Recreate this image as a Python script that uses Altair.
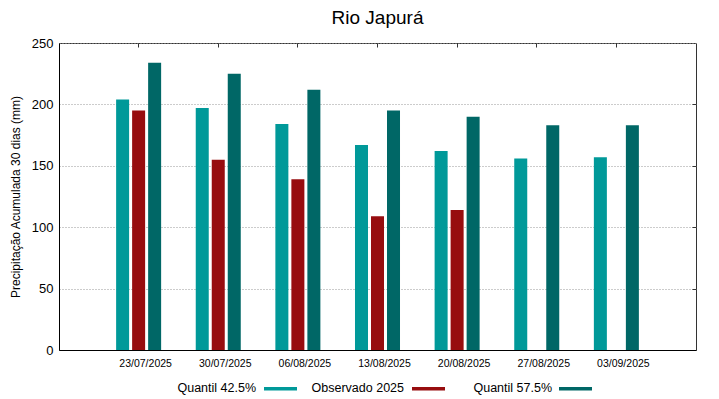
import altair as alt
import pandas as pd

dates = ["23/07/2025", "30/07/2025", "06/08/2025", "13/08/2025",
         "20/08/2025", "27/08/2025", "03/09/2025"]
series_names = ["Quantil 42.5%", "Observado 2025", "Quantil 57.5%"]
q425 = [204, 197, 184, 167, 162, 156, 157]
obs2025 = [195, 155, 139, 109, 114, None, None]
q575 = [234, 225, 212, 195, 190, 183, 183]
colors = ["#009999", "#970d0f", "#006766"]

rows = []
for i, d in enumerate(dates):
    for name, vals in zip(series_names, [q425, obs2025, q575]):
        if vals[i] is not None:
            rows.append({"date": d, "series": name, "value": vals[i]})
df = pd.DataFrame(rows)

FONT = "Liberation Sans"

xscale = alt.Scale(domain=dates, paddingInner=0.0327, paddingOuter=0.51635)
yscale = alt.Scale(domain=[0, 250], nice=False)

bars = alt.Chart(df).mark_bar(stroke=None).encode(
    x=alt.X("date:N", sort=dates, scale=xscale,
            axis=alt.Axis(title=None, labelAngle=0, labelFontSize=10.5, labelOffset=7,
                          labelPadding=8, ticks=False, domainColor="black",
                          labelColor="black", labelFont=FONT)),
    xOffset=alt.XOffset("series:N", sort=series_names,
                        scale=alt.Scale(domain=series_names, paddingInner=0.1875,
                                        paddingOuter=1)),
    y=alt.Y("value:Q", scale=yscale,
            axis=alt.Axis(title="Precipitação Acumulada 30 dias (mm)",
                          values=[0, 50, 100, 150, 200, 250], titleFontSize=12,
                          titleFontWeight="normal", titleColor="black", titleFont=FONT,
                          titleX=-37, titleY=153.5,
                          labelFontSize=13, labelColor="black", labelFont=FONT,
                          labelPadding=6, ticks=False, domainColor="black",
                          grid=True, gridColor="#999999", gridDash=[1, 2],
                          gridWidth=1)),
    color=alt.Color("series:N", scale=alt.Scale(domain=series_names, range=colors),
                    legend=None),
)

ticks_layer = alt.Chart(df).mark_point(opacity=0).encode(
    x=alt.X("date:N", sort=dates, scale=xscale,
            axis=alt.Axis(title=None, labels=False, domain=False, ticks=True,
                          tickSize=4, offset=-4, tickColor="#333333", grid=False)),
    y=alt.Y("value:Q", scale=yscale,
            axis=alt.Axis(title=None, orient="right", labels=False, domain=False,
                          values=[50, 100, 150, 200], ticks=True, tickSize=4,
                          offset=-4, tickColor="#333333", grid=False)),
)

legend_layers = []
text_right = [197, 345, 493]
sw_left = [205, 353, 500]
for name, col, tr, sl in zip(series_names, colors, text_right, sw_left):
    ldf = pd.DataFrame({"label": [name]})
    legend_layers.append(
        alt.Chart(ldf).mark_text(align="right", baseline="middle", fontSize=12.5,
                                 font=FONT, color="black").encode(
            text="label:N", x=alt.value(tr), y=alt.value(345)))
    legend_layers.append(
        alt.Chart(ldf).mark_rect(color=col).encode(
            x=alt.value(sl), x2=alt.value(sl + 33),
            y=alt.value(344), y2=alt.value(347.5)))

chart = alt.layer(bars, ticks_layer, *legend_layers).resolve_axis(
    x="independent", y="independent"
).properties(
    width=637, height=307,
    autosize="none",
    padding={"left": 51, "top": 35, "right": 15, "bottom": 49},
    title=alt.TitleParams("Rio Japurá", fontSize=19, fontWeight="normal",
                          font=FONT, color="black", anchor="middle", offset=9),
).configure_view(stroke="#333333", strokeWidth=1)

chart.save("out.html", embed_options={"renderer": "svg", "actions": False})
